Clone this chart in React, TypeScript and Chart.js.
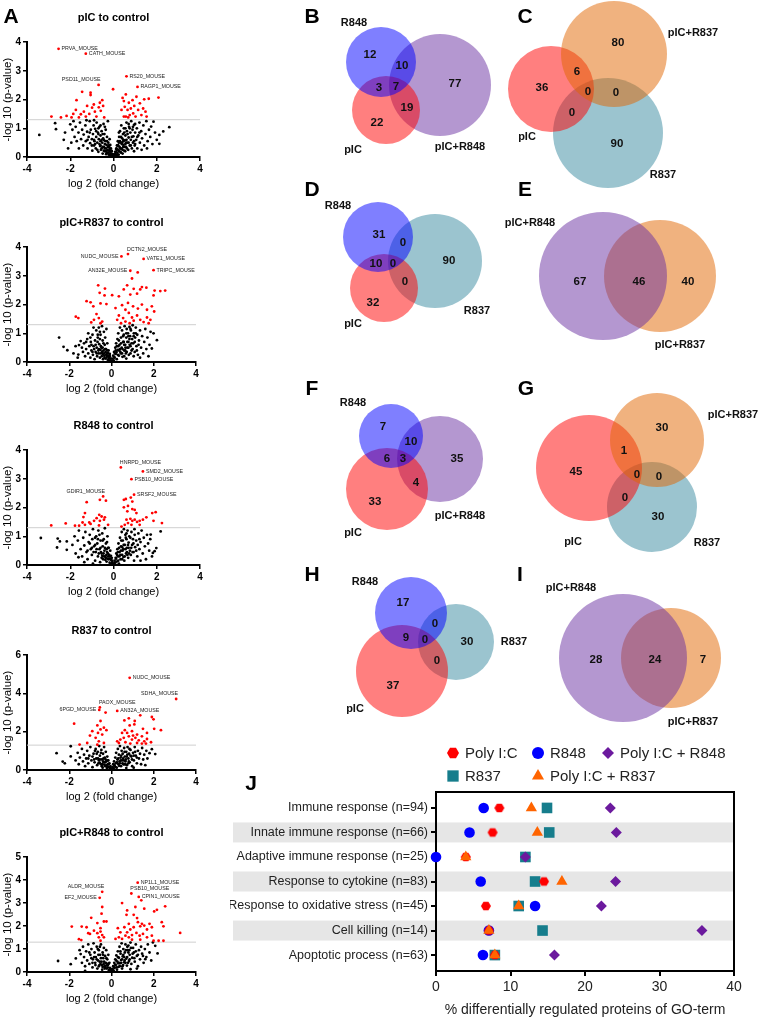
import React, { useEffect, useRef } from 'react';
import { Chart, registerables } from 'chart.js';
Chart.register(...registerables);

const FONT = '"Liberation Sans", Arial, Helvetica, sans-serif';
Chart.defaults.font.family = FONT;
Chart.defaults.color = '#000';

// ---------------- Panel A: volcano data (log2 FC, -log10 p) ----------------
const P_THRESHOLD = 1.3;
const X_TITLE = 'log 2 (fold change)';
const Y_TITLE = '-log 10 (p-value)';

const pIC_black: number[][] = [
  [-3.43,0.77],[-2.7,1.18],[-2.66,0.97],[-2.24,0.85],[-2.0,1.14],[-1.9,0.95],[-1.8,0.7],[-1.75,1.05],[-1.7,0.55],[-1.62,0.85],[-1.55,1.2],[-1.5,0.62],[-1.45,0.95],[-1.4,0.4],[-1.38,0.78],[-1.3,1.1],[-1.28,0.55],[-1.22,0.88],[-1.2,0.3],[-1.15,0.7],[-1.1,1.25],[-1.08,0.48],[-1.05,0.95],[-1.0,0.62],[-0.98,0.22],[-0.95,0.8],[-0.92,1.1],[-0.9,0.4],[-0.88,0.55],[-0.85,0.98],[-0.82,0.3],[-0.8,0.7],[-0.78,1.2],[-0.75,0.5],[-0.72,0.85],[-0.7,0.18],[-0.68,0.62],[-0.65,1.05],[-0.62,0.38],[-0.6,0.75],[-0.58,0.25],[-0.55,0.9],[-0.52,0.5],[-0.5,0.12],[-0.48,0.65],[-0.46,1.15],[-0.44,0.35],[-0.42,0.8],[-0.4,0.2],[-0.38,0.55],[-0.36,0.95],[-0.34,0.1],[-0.32,0.42],[-0.3,0.7],[-0.28,0.25],[-0.26,1.25],[-0.24,0.5],[-0.22,0.08],[-0.2,0.35],[-0.18,0.62],[-0.16,0.18],[-0.14,0.05],[-0.12,0.3],[-0.1,0.12],[-0.08,0.2],[-0.06,0.04],[-0.04,0.1],[-0.02,0.02],[-2.3,0.6],[-2.1,0.3],[-1.95,0.5],[-1.6,0.3],[-1.85,1.25],[-1.25,1.28],[-0.9,1.28],
  [-0.9,0.6],[-0.85,0.45],[-0.8,0.9],[-0.75,0.25],[-0.7,1.0],[-0.65,0.45],[-0.6,0.55],[-0.55,0.3],[-0.5,0.8],[-0.45,0.6],[-0.4,0.45],[-0.35,0.3],[-0.3,0.55],[-0.25,0.15],[-0.22,0.4],[-0.18,0.28],[-0.15,0.42],[-0.1,0.22],[-1.0,0.4],[-1.1,0.85],[-1.2,0.6],[-0.6,1.1],[-0.4,1.05],[-0.7,0.8],
  [-0.5,0.35],[-0.45,0.22],[-0.4,0.3],[-0.35,0.2],[-0.3,0.15],[-0.26,0.35],[-0.2,0.22],[-0.15,0.1],[-0.12,0.2],[-0.08,0.08],[-0.6,0.4],[-0.55,0.6],
  [0.02,0.03],[0.04,0.1],[0.06,0.05],[0.08,0.18],[0.1,0.1],[0.12,0.28],[0.14,0.06],[0.16,0.4],[0.18,0.15],[0.2,0.55],[0.22,0.25],[0.24,0.08],[0.26,0.7],[0.28,0.35],[0.3,0.9],[0.32,0.18],[0.34,0.5],[0.36,1.1],[0.38,0.28],[0.4,0.65],[0.42,0.12],[0.44,0.8],[0.46,0.42],[0.48,1.0],[0.5,0.22],[0.52,0.58],[0.55,0.75],[0.58,0.35],[0.6,1.2],[0.62,0.9],[0.65,0.5],[0.68,0.25],[0.7,0.68],[0.72,1.05],[0.75,0.4],[0.78,0.85],[0.8,0.6],[0.82,1.25],[0.85,0.3],[0.88,0.95],[0.9,0.5],[0.92,0.72],[0.95,1.12],[0.98,0.4],[1.0,0.85],[1.05,0.6],[1.08,1.0],[1.1,0.3],[1.15,0.75],[1.2,1.2],[1.22,0.5],[1.28,0.9],[1.32,0.65],[1.38,1.1],[1.42,0.4],[1.48,0.8],[1.52,1.25],[1.58,0.55],[1.64,0.95],[1.7,0.7],[1.74,1.06],[1.8,0.45],[1.85,1.23],[1.92,0.85],[2.0,0.6],[2.12,0.77],[2.12,0.46],[2.3,0.89],[2.58,1.04],[1.55,0.3],[1.3,0.25],[0.95,0.2],
  [0.15,0.25],[0.2,0.4],[0.25,0.5],[0.3,0.3],[0.35,0.7],[0.4,0.5],[0.45,0.6],[0.5,0.85],[0.55,0.45],[0.6,0.6],[0.65,0.8],[0.7,0.5],[0.75,1.0],[0.8,0.4],[0.85,0.7],[0.9,1.05],[0.95,0.55],[1.0,0.45],[1.1,0.7],[1.2,0.85],[0.55,1.0],[0.7,1.15],[0.45,0.35],[0.35,0.15],[1.0,1.15],[0.25,0.85],
  [0.1,0.18],[0.14,0.3],[0.18,0.08],[0.22,0.4],[0.26,0.2],[0.3,0.55],[0.34,0.3],[0.38,0.45],[0.42,0.25],[0.46,0.55],[0.5,0.35],[0.54,0.2],[0.58,0.5],[0.62,0.3]
];
const pIC_red: number[][] = [
  [-2.54,3.77],[-1.28,3.60],[-0.69,2.51],[0.60,2.81],[1.11,2.44],[-0.02,2.36],[-1.45,2.27],[-1.06,2.24],[-1.06,2.16],[-0.52,1.98],[-1.71,1.98],[-2.87,1.41],[-2.43,1.38],[-2.17,1.43],[-1.94,1.38],[-1.86,1.50],[-1.74,1.64],[-1.60,1.38],[-1.51,1.49],[-1.37,1.58],[-1.28,1.41],[-1.22,1.78],[-1.12,1.50],[-0.99,1.72],[-0.91,1.83],[-0.86,1.58],[-0.79,1.41],[-0.68,1.73],[-0.63,1.89],[-0.59,1.61],[-0.48,1.78],[-0.43,1.38],
  [0.37,1.64],[0.42,2.06],[0.48,1.95],[0.48,1.41],[0.52,1.75],[0.57,2.18],[0.65,1.64],[0.71,1.89],[0.75,1.46],[0.80,1.69],[0.88,1.98],[0.91,1.52],[0.96,1.78],[1.02,1.41],[1.06,2.10],[1.14,1.64],[1.22,1.87],[1.29,1.46],[1.37,1.69],[1.42,2.01],[1.48,1.58],[1.53,1.41],[1.63,2.03],[2.08,2.07],[0.57,1.41],[0.68,1.38]
];
const pIC_labels: any[] = [
  [-2.54,3.77,'PRVA_MOUSE','r'],[-1.28,3.60,'CATH_MOUSE','r'],[-0.69,2.51,'PSD11_MOUSE','la'],[0.60,2.81,'RS20_MOUSE','r'],[1.11,2.44,'RAGP1_MOUSE','r']
];

const pICR837_black: number[][] = [
  [-2.48,0.85],[-2.27,0.53],[-2.09,0.41],[-1.54,0.59],[-1.57,0.26],[-1.46,0.73],[2.15,0.76],[1.99,1.0],[1.91,0.47],
  [-1.4,0.5],[-1.35,0.35],[-1.3,0.65],[-1.25,0.2],[-1.2,0.45],[-1.15,0.8],[-1.1,0.3],[-1.05,0.55],[-1.0,0.15],[-0.98,0.7],[-0.95,0.4],[-0.9,0.95],[-0.88,0.25],[-0.85,0.55],[-0.8,0.1],[-0.78,0.75],[-0.75,0.35],[-0.72,1.1],[-0.7,0.5],[-0.68,0.2],[-0.65,0.85],[-0.62,0.4],[-0.6,1.2],[-0.58,0.62],[-0.55,0.15],[-0.52,0.95],[-0.5,0.3],[-0.48,0.5],[-0.45,1.25],[-0.42,0.75],[-0.4,0.1],[-0.38,0.4],[-0.36,1.05],[-0.34,0.22],[-0.32,0.6],[-0.3,0.85],[-0.28,0.12],[-0.26,0.45],[-0.24,1.15],[-0.22,0.3],[-0.2,0.65],[-0.18,0.08],[-0.16,0.2],[-0.14,0.4],[-0.12,0.05],[-0.1,0.15],[-0.08,0.28],[-0.05,0.06],[-0.03,0.12],[-1.6,0.15],[-1.8,0.3],[-1.7,0.55],[-1.1,1.0],[-0.85,1.2],
  [-0.95,0.6],[-0.9,0.35],[-0.82,0.45],[-0.75,0.6],[-0.7,0.3],[-0.66,0.7],[-0.6,0.45],[-0.55,0.8],[-0.5,0.55],[-0.45,0.35],[-0.42,0.5],[-0.38,0.65],[-0.35,0.3],[-0.3,0.45],[-0.25,0.25],[-0.2,0.4],[-0.15,0.3],[-0.55,1.05],[-0.65,0.95],[-1.2,0.7],[-1.0,0.85],
  [-0.46,0.2],[-0.4,0.28],[-0.33,0.15],[-0.28,0.35],[-0.22,0.18],[-0.18,0.3],[-0.12,0.12],[-0.08,0.2],[-0.6,0.3],[-0.52,0.42],
  [0.02,0.04],[0.05,0.12],[0.08,0.22],[0.1,0.06],[0.12,0.35],[0.15,0.15],[0.18,0.5],[0.2,0.28],[0.22,0.65],[0.25,0.1],[0.28,0.8],[0.3,0.42],[0.32,1.0],[0.35,0.22],[0.38,0.6],[0.4,1.2],[0.42,0.35],[0.45,0.85],[0.48,0.5],[0.5,1.1],[0.52,0.18],[0.55,0.7],[0.58,0.95],[0.6,0.4],[0.62,1.25],[0.65,0.6],[0.68,0.3],[0.7,0.85],[0.72,1.15],[0.75,0.5],[0.78,1.0],[0.8,0.7],[0.82,0.25],[0.85,1.22],[0.88,0.9],[0.9,0.55],[0.92,1.1],[0.95,0.4],[0.98,0.8],[1.0,1.28],[1.03,0.65],[1.06,1.0],[1.1,0.35],[1.12,0.85],[1.15,1.2],[1.18,0.55],[1.22,0.95],[1.25,0.25],[1.3,0.75],[1.35,1.1],[1.4,0.5],[1.45,0.9],[1.5,0.3],[1.55,0.7],[1.6,1.15],[1.65,0.45],[1.7,0.85],[1.75,0.2],[1.8,0.6],[1.85,1.05],[1.05,0.2],[0.7,0.12],[1.35,0.15],
  [0.2,0.4],[0.25,0.55],[0.3,0.25],[0.35,0.75],[0.4,0.45],[0.45,0.65],[0.5,0.3],[0.55,0.9],[0.6,0.6],[0.65,0.4],[0.7,1.0],[0.75,0.7],[0.8,0.5],[0.85,0.8],[0.9,1.15],[0.95,0.65],[1.0,0.45],[1.05,0.9],[1.1,0.7],[1.15,1.0],[1.2,0.4],[1.28,0.6],[0.6,0.2],[0.9,0.3],
  [0.12,0.18],[0.16,0.3],[0.24,0.35],[0.32,0.55],[0.36,0.4],[0.44,0.3],[0.52,0.45],[0.58,0.7],[0.66,0.5],[0.72,0.35],[0.8,0.9],[0.86,0.6]
];
const pICR837_red: number[][] = [
  [0.78,3.76],[0.47,3.68],[1.52,3.59],[0.89,3.18],[1.99,3.2],[1.24,3.12],[0.97,2.91],[-0.63,2.67],[0.74,2.67],[-0.31,2.56],[0.58,2.53],[1.05,2.55],[1.36,2.53],[1.65,2.59],[2.04,2.49],[2.31,2.47],[2.54,2.49],[1.44,2.61],[1.21,2.38],[0.89,2.35],[0.35,2.29],[0.03,2.33],[-0.33,2.32],[-0.56,2.41],[1.99,2.32],[-1.18,2.12],[-0.99,2.08],[-0.86,1.94],[-0.52,2.04],[-0.24,2.02],[0.19,1.88],[0.5,1.98],[0.66,1.82],[0.78,2.06],[1.02,1.94],[1.25,1.86],[1.44,2.0],[1.68,1.82],[1.91,1.94],[2.02,1.76],[-1.57,1.53],[-1.69,1.58],[-0.71,1.67],[-0.6,1.53],[-0.83,1.47],[-0.44,1.41],[-0.96,1.38],[-0.52,1.35],[0.35,1.62],[0.55,1.53],[0.66,1.41],[0.82,1.71],[0.97,1.55],[1.05,1.44],[1.21,1.62],[1.36,1.47],[1.52,1.39],[1.68,1.55],[1.84,1.47],[0.45,1.35],[0.86,1.35],[0.27,1.47],[1.76,1.35]
];
const pICR837_labels: any[] = [
  [0.78,3.76,'DCTN2_MOUSE','ra'],[0.47,3.68,'NUDC_MOUSE','l'],[1.52,3.59,'VATE1_MOUSE','r'],[0.89,3.18,'AN32E_MOUSE','l'],[1.99,3.2,'TRIPC_MOUSE','r']
];

const R848_black: number[][] = [
  [-3.36,0.94],[-2.58,0.92],[-2.48,0.82],[-2.61,0.61],[-2.16,0.82],[-2.16,0.53],[-1.62,0.27],[2.18,1.17],[1.98,0.59],[1.82,0.42],[1.72,1.06],[1.9,0.48],
  [-1.9,0.7],[-1.8,1.0],[-1.75,0.4],[-1.65,0.85],[-1.6,1.2],[-1.52,0.55],[-1.45,0.3],[-1.4,0.95],[-1.35,0.68],[-1.3,1.15],[-1.25,0.45],[-1.2,0.2],[-1.15,0.8],[-1.1,1.05],[-1.05,0.55],[-1.0,0.35],[-0.98,0.9],[-0.95,1.25],[-0.9,0.65],[-0.85,0.15],[-0.82,0.45],[-0.8,1.0],[-0.75,0.75],[-0.72,0.3],[-0.7,1.2],[-0.65,0.55],[-0.62,0.1],[-0.6,0.85],[-0.55,0.4],[-0.52,1.1],[-0.5,0.65],[-0.48,0.2],[-0.45,0.9],[-0.42,0.5],[-0.4,1.28],[-0.38,0.3],[-0.35,0.75],[-0.32,0.12],[-0.3,0.45],[-0.28,1.0],[-0.25,0.6],[-0.22,0.2],[-0.2,0.35],[-0.18,0.08],[-0.15,0.5],[-0.12,0.18],[-0.1,0.05],[-0.08,0.25],[-0.05,0.1],[-0.03,0.03],[-1.35,0.1],[-0.95,0.05],
  [-1.0,0.6],[-0.92,0.45],[-0.85,0.7],[-0.78,0.55],[-0.72,0.9],[-0.68,0.4],[-0.6,0.6],[-0.55,0.25],[-0.5,0.85],[-0.46,0.4],[-0.4,0.6],[-0.36,0.25],[-0.32,0.55],[-0.26,0.4],[-0.22,0.6],[-0.18,0.3],[-1.1,0.75],[-1.2,0.5],[-0.65,1.05],[-0.85,0.95],[-0.3,0.8],
  [-0.44,0.3],[-0.38,0.18],[-0.33,0.35],[-0.28,0.22],[-0.24,0.3],[-0.16,0.22],[-0.12,0.32],[-0.07,0.15],[-0.58,0.45],[-0.52,0.32],
  [0.03,0.05],[0.05,0.15],[0.08,0.08],[0.1,0.25],[0.13,0.4],[0.15,0.12],[0.18,0.55],[0.2,0.3],[0.23,0.75],[0.25,0.05],[0.28,0.45],[0.3,0.95],[0.33,0.2],[0.35,0.65],[0.38,1.15],[0.4,0.35],[0.43,0.85],[0.45,0.55],[0.48,1.25],[0.5,0.15],[0.52,0.7],[0.55,1.05],[0.58,0.4],[0.6,0.9],[0.62,0.6],[0.65,1.2],[0.68,0.25],[0.7,0.78],[0.73,1.0],[0.76,0.5],[0.8,0.35],[0.83,1.15],[0.86,0.7],[0.9,0.9],[0.93,0.45],[0.97,1.25],[1.0,0.62],[1.05,0.85],[1.1,0.3],[1.15,1.1],[1.2,0.55],[1.25,0.8],[1.3,1.2],[1.35,0.4],[1.4,0.95],[1.45,0.65],[1.5,0.2],[1.55,1.05],[1.6,0.75],[1.65,0.5],[1.7,0.9],[1.78,0.3],[0.95,0.15],[1.25,0.15],
  [0.2,0.45],[0.26,0.6],[0.32,0.35],[0.36,0.85],[0.42,0.5],[0.47,0.7],[0.52,0.3],[0.57,0.95],[0.62,0.45],[0.67,0.7],[0.72,0.4],[0.78,0.95],[0.82,0.6],[0.88,0.45],[0.92,0.75],[0.98,1.05],[1.05,0.5],[1.12,0.7],[1.2,0.9],[0.6,1.1],[0.4,0.2],
  [0.12,0.22],[0.17,0.35],[0.22,0.15],[0.27,0.3],[0.34,0.5],[0.4,0.62],[0.46,0.28],[0.55,0.55],[0.64,0.35],[0.7,0.6]
];
const R848_red: number[][] = [
  [0.34,3.40],[1.36,3.26],[0.83,2.99],[-0.48,2.39],[-0.35,2.24],[0.95,2.45],[-1.24,2.19],[-0.63,2.27],[0.48,2.27],[0.57,2.30],[0.80,2.35],[0.87,2.21],[0.67,2.06],[0.48,2.01],[0.64,1.87],[0.87,1.95],[0.98,1.92],[1.06,1.81],[1.79,1.81],[1.95,1.84],[-1.32,1.81],[-1.39,1.67],[-0.66,1.75],[-0.55,1.69],[-0.40,1.66],[-0.78,1.63],[-0.44,1.58],[-0.63,1.54],[-0.25,1.40],[-2.88,1.38],[-2.21,1.45],[-1.78,1.37],[-1.59,1.37],[-1.43,1.48],[-1.32,1.40],[-1.12,1.48],[-1.06,1.43],[-0.90,1.54],[-0.67,1.38],[0.60,1.58],[0.78,1.61],[0.87,1.54],[0.98,1.58],[1.09,1.50],[1.21,1.54],[1.36,1.58],[0.67,1.46],[0.83,1.40],[1.52,1.66],[1.85,1.54],[2.24,1.46],[0.52,1.40],[0.37,1.34],[1.21,1.40]
];
const R848_labels: any[] = [
  [0.34,3.40,'HNRPD_MOUSE','ra'],[1.36,3.26,'SMD2_MOUSE','r'],[0.83,2.99,'PSB10_MOUSE','r'],[-0.48,2.39,'GDIR1_MOUSE','la'],[0.95,2.45,'SRSF2_MOUSE','r']
];

const R837_black: number[][] = [
  [-2.6,0.88],[-2.31,0.44],[-2.21,0.35],[-1.93,1.24],[-1.93,0.71],[2.07,0.83],[1.91,1.09],[1.8,0.88],
  [-1.7,0.5],[-1.6,0.9],[-1.55,0.3],[-1.5,0.65],[-1.4,1.1],[-1.35,0.45],[-1.3,0.8],[-1.25,0.2],[-1.2,0.6],[-1.15,1.0],[-1.1,0.35],[-1.05,0.75],[-1.0,1.2],[-0.95,0.5],[-0.9,0.15],[-0.85,0.85],[-0.8,0.4],[-0.75,1.1],[-0.72,0.6],[-0.68,0.25],[-0.65,0.95],[-0.6,0.5],[-0.58,1.25],[-0.55,0.75],[-0.5,0.3],[-0.48,1.05],[-0.45,0.55],[-0.42,0.12],[-0.4,0.85],[-0.37,0.4],[-0.35,1.2],[-0.32,0.65],[-0.3,0.2],[-0.27,0.95],[-0.25,0.45],[-0.22,0.1],[-0.2,0.7],[-0.17,0.3],[-0.15,0.5],[-0.12,0.15],[-0.1,0.35],[-0.07,0.06],[-0.05,0.2],[-0.02,0.04],
  [-0.9,0.7],[-0.82,0.55],[-0.7,0.85],[-0.62,0.35],[-0.55,0.55],[-0.5,0.9],[-0.44,0.3],[-0.38,0.6],[-0.3,0.4],[-0.24,0.25],[-0.18,0.5],[-1.1,0.6],[-0.78,1.0],
  [-0.46,0.2],[-0.4,0.45],[-0.34,0.28],[-0.28,0.55],[-0.2,0.18],[-0.14,0.3],[-0.08,0.12],[-0.56,0.38],[-0.64,0.6],
  [0.02,0.05],[0.05,0.15],[0.08,0.3],[0.1,0.08],[0.12,0.45],[0.15,0.2],[0.18,0.65],[0.2,0.35],[0.22,0.9],[0.25,0.12],[0.28,0.55],[0.3,1.1],[0.33,0.3],[0.35,0.8],[0.38,0.45],[0.4,1.25],[0.43,0.65],[0.45,0.2],[0.48,1.0],[0.5,0.5],[0.53,0.85],[0.56,0.3],[0.6,1.15],[0.63,0.7],[0.66,0.45],[0.7,0.95],[0.73,0.25],[0.76,1.2],[0.8,0.6],[0.83,0.85],[0.86,0.4],[0.9,1.05],[0.94,0.7],[0.98,0.2],[1.02,0.9],[1.06,0.5],[1.1,1.2],[1.15,0.75],[1.2,0.35],[1.25,1.0],[1.3,0.6],[1.35,0.85],[1.4,0.3],[1.45,1.15],[1.5,0.55],[1.55,0.8],[1.6,0.25],[1.65,1.0],[1.7,0.6],[1.05,0.12],[0.7,0.1],
  [0.25,0.4],[0.32,0.6],[0.4,0.35],[0.46,0.75],[0.55,0.6],[0.62,0.95],[0.68,0.55],[0.75,0.8],[0.82,0.45],[0.9,0.75],[0.97,0.55],[1.05,0.75],[1.12,0.95],[1.2,0.65],[0.6,0.3],[0.85,1.1],
  [0.14,0.25],[0.2,0.15],[0.26,0.38],[0.36,0.22],[0.44,0.5],[0.52,0.35],[0.58,0.5],[0.66,0.3],[0.72,0.7],[0.8,0.35]
];
const R837_red: number[][] = [
  [0.86,4.82],[3.06,3.71],[-0.55,3.27],[-0.58,3.14],[0.27,3.09],[-0.28,3.0],[-1.77,2.42],[-0.52,2.56],[-0.67,2.33],[-0.36,2.21],[-0.52,2.12],[-0.24,2.08],[-0.64,1.94],[-0.44,1.85],[-1.02,1.80],[-0.91,2.03],[-0.75,1.68],[-0.60,1.50],[-0.67,1.32],[-1.15,1.41],[-1.51,1.33],[-0.36,1.41],[0.82,2.70],[1.10,2.56],[1.36,2.86],[1.91,2.77],[1.99,2.65],[0.61,2.59],[0.86,2.33],[1.08,2.38],[0.63,2.08],[0.50,1.94],[0.74,1.94],[0.97,2.03],[1.21,1.85],[1.49,2.15],[1.68,1.94],[2.02,2.15],[2.34,2.08],[0.42,1.59],[0.58,1.68],[0.82,1.76],[0.97,1.59],[1.13,1.68],[1.29,1.55],[1.44,1.76],[1.55,1.50],[1.68,1.62],[1.87,1.45],[0.35,1.41],[0.66,1.45],[0.89,1.38],[1.21,1.41],[1.44,1.38],[0.27,1.50],[1.02,1.80],[1.63,1.38]
];
const R837_labels: any[] = [
  [0.86,4.82,'NUDC_MOUSE','r'],[3.06,3.71,'SDHA_MOUSE','la'],[-0.55,3.27,'PAOX_MOUSE','ra'],[-0.58,3.14,'6PGD_MOUSE','l'],[0.27,3.09,'AN32A_MOUSE','r']
];

const pICR848_black: number[][] = [
  [-2.53,0.48],[-1.93,0.34],[-1.69,0.59],[-1.51,0.95],[-1.46,0.78],[2.18,0.81],[2.07,1.14],[1.96,1.29],[1.6,0.56],[1.49,0.7],
  [-1.4,0.4],[-1.35,1.1],[-1.3,0.65],[-1.25,0.25],[-1.2,0.9],[-1.15,0.5],[-1.1,1.2],[-1.05,0.35],[-1.0,0.75],[-0.95,1.0],[-0.9,0.2],[-0.88,0.55],[-0.85,1.25],[-0.8,0.85],[-0.77,0.4],[-0.74,0.65],[-0.7,1.1],[-0.67,0.15],[-0.64,0.5],[-0.6,0.95],[-0.57,0.3],[-0.54,0.75],[-0.5,1.2],[-0.47,0.45],[-0.44,0.1],[-0.42,0.85],[-0.39,0.6],[-0.36,1.05],[-0.33,0.25],[-0.3,0.7],[-0.27,0.4],[-0.25,0.95],[-0.22,0.15],[-0.2,0.55],[-0.17,0.3],[-0.15,0.75],[-0.12,0.08],[-0.1,0.4],[-0.08,0.18],[-0.05,0.05],[-0.03,0.12],[-1.25,0.05],[-0.95,0.6],
  [-0.9,0.4],[-0.82,0.65],[-0.76,0.3],[-0.7,0.55],[-0.62,0.75],[-0.56,0.45],[-0.5,0.6],[-0.45,0.3],[-0.4,0.75],[-0.35,0.45],[-0.3,0.2],[-0.24,0.6],[-0.2,0.35],[-1.05,0.85],[-0.65,1.0],[-0.55,1.1],
  [-0.42,0.22],[-0.37,0.35],[-0.32,0.15],[-0.26,0.28],[-0.18,0.2],[-0.14,0.35],[-0.06,0.15],[-0.6,0.25],[-0.52,0.35],
  [0.02,0.04],[0.05,0.12],[0.08,0.25],[0.1,0.06],[0.13,0.4],[0.15,0.18],[0.18,0.55],[0.2,0.3],[0.23,0.72],[0.26,0.1],[0.28,0.45],[0.3,0.9],[0.33,0.22],[0.35,0.62],[0.38,1.1],[0.4,0.38],[0.43,0.8],[0.45,0.52],[0.48,1.25],[0.5,0.15],[0.53,0.68],[0.56,1.0],[0.6,0.42],[0.63,0.85],[0.66,1.2],[0.7,0.58],[0.73,0.28],[0.76,0.95],[0.8,1.15],[0.83,0.48],[0.86,0.75],[0.9,1.28],[0.94,0.35],[0.98,0.62],[1.02,1.05],[1.06,0.85],[1.1,0.45],[1.15,1.2],[1.2,0.7],[1.25,0.25],[1.3,0.95],[1.35,0.55],[1.4,1.1],[1.45,0.8],[1.52,0.4],[1.58,1.0],[1.65,0.65],[1.72,1.2],[1.8,0.85],[1.88,0.5],[0.9,0.12],[1.2,0.15],
  [0.22,0.5],[0.3,0.65],[0.36,0.4],[0.42,0.9],[0.5,0.55],[0.56,0.75],[0.62,0.5],[0.68,0.95],[0.74,0.65],[0.8,0.85],[0.86,0.55],[0.92,1.05],[1.0,0.8],[1.08,0.6],[1.15,0.9],[1.25,0.75],[0.55,0.3],[0.75,1.1],
  [0.12,0.2],[0.17,0.32],[0.24,0.2],[0.31,0.38],[0.39,0.25],[0.46,0.4],[0.52,0.25],[0.6,0.65],[0.66,0.4],[0.78,0.4],[0.84,0.95]
];
const pICR848_red: number[][] = [
  [1.24,3.89],[0.94,3.42],[1.29,3.27],[-0.44,3.49],[-0.56,3.23],[1.41,3.12],[0.50,3.0],[-0.44,2.83],[-0.47,2.54],[2.15,2.71],[2.02,2.64],[2.54,2.86],[1.55,2.76],[0.74,2.68],[0.71,2.49],[1.05,2.49],[1.13,2.83],[1.21,2.35],[-0.96,2.36],[-0.36,2.20],[-0.24,2.20],[-1.41,1.98],[-1.88,1.98],[-1.18,1.95],[-0.67,2.13],[-0.52,1.91],[-1.10,1.69],[-1.02,1.66],[-0.83,1.80],[-0.67,1.69],[-0.52,1.76],[-0.44,1.61],[-0.60,1.51],[-0.36,1.51],[-1.54,1.43],[-1.43,1.39],[-0.52,1.36],[0.30,1.91],[0.42,1.73],[0.61,1.95],[0.82,2.10],[0.74,1.73],[0.89,1.85],[1.05,1.95],[1.25,2.17],[1.36,1.99],[1.44,2.10],[1.55,2.02],[1.68,1.85],[1.80,2.10],[1.91,1.95],[2.38,2.17],[2.46,1.99],[0.66,1.58],[0.82,1.51],[0.97,1.61],[1.18,1.70],[1.33,1.58],[1.49,1.66],[1.68,1.51],[1.91,1.58],[0.50,1.44],[0.97,1.41],[1.36,1.41],[1.99,1.36],[2.23,1.36],[2.46,1.36],[3.25,1.70],[0.35,1.51],[0.19,1.44]
];
const pICR848_labels: any[] = [
  [1.24,3.89,'NP1L1_MOUSE','r'],[0.94,3.42,'PSB10_MOUSE','ra'],[1.29,3.27,'CPIN1_MOUSE','r'],[-0.44,3.49,'ALDR_MOUSE','la'],[-0.56,3.23,'EF2_MOUSE','l']
];

const VOLCANOES = [
  { title: 'pIC to control', black: pIC_black, red: pIC_red, labels: pIC_labels, yMax: 4, yStep: 1, top: 0, width: 215 },
  { title: 'pIC+R837 to control', black: pICR837_black, red: pICR837_red, labels: pICR837_labels, yMax: 4, yStep: 1, top: 205, width: 211 },
  { title: 'R848 to control', black: R848_black, red: R848_red, labels: R848_labels, yMax: 4, yStep: 1, top: 408, width: 215 },
  { title: 'R837 to control', black: R837_black, red: R837_red, labels: R837_labels, yMax: 6, yStep: 2, top: 613, width: 211 },
  { title: 'pIC+R848 to control', black: pICR848_black, red: pICR848_red, labels: pICR848_labels, yMax: 5, yStep: 1, top: 815, width: 211 },
];

// ---------------- Panels B–I: Venn data ----------------
const vennB_sets = ['R848', 'pIC', 'pIC+R848'];
const vennB_counts = [12, 10, 3, 7, 77, 19, 22];
const vennC_sets = ['pIC+R837', 'pIC', 'R837'];
const vennC_counts = [80, 6, 36, 0, 0, 0, 90];
const vennD_sets = ['R848', 'pIC', 'R837'];
const vennD_counts = [31, 0, 10, 0, 90, 0, 32];
const vennE_sets = ['pIC+R848', 'pIC+R837'];
const vennE_counts = [67, 46, 40];
const vennF_sets = ['R848', 'pIC', 'pIC+R848'];
const vennF_counts = [7, 10, 6, 3, 35, 4, 33];
const vennG_sets = ['pIC+R837', 'pIC', 'R837'];
const vennG_counts = [30, 1, 45, 0, 0, 0, 30];
const vennH_sets = ['R848', 'pIC', 'R837'];
const vennH_counts = [17, 0, 9, 0, 30, 0, 37];
const vennI_sets = ['pIC+R848', 'pIC+R837'];
const vennI_counts = [28, 24, 7];

const SET_COLORS: Record<string, string> = {
  'R848': 'rgba(0,0,255,0.5)',
  'pIC': 'rgba(255,0,0,0.5)',
  'pIC+R848': 'rgba(105,47,161,0.5)',
  'R837': 'rgba(55,137,159,0.5)',
  'pIC+R837': 'rgba(225,101,0,0.5)',
};

// layout of the Venn drawings (page coordinates)
const VENN_LAYOUT: Record<string, any> = {
  B: { circles: [[381,62,35],[386,110,34],[440,85,51]], setPos: [[354,23],[353,150],[460,147]],
       countPos: [[370,55],[402,66],[379,88],[396,87],[455,84],[407,108],[377,123]] },
  C: { circles: [[614,54,53],[551,89,43],[608,133,55]], setPos: [[693,33],[527,137],[663,175]],
       countPos: [[618,43],[577,72],[542,88],[588,92],[616,93],[572,113],[617,144]] },
  D: { circles: [[378,237,35],[384,288,34],[435,261,47]], setPos: [[338,206],[353,324],[477,311]],
       countPos: [[379,235],[403,243],[376,264],[393,264],[449,261],[405,282],[373,303]] },
  E: { circles: [[603,276,64],[660,276,56]], setPos: [[530,223],[680,345]],
       countPos: [[580,282],[639,282],[688,282]] },
  F: { circles: [[391,436,32],[387,489,41],[440,459,43]], setPos: [[353,403],[353,533],[460,516]],
       countPos: [[383,427],[411,442],[387,459],[403,459],[457,459],[416,483],[375,502]] },
  G: { circles: [[657,440,47],[589,468,53],[652,507,45]], setPos: [[733,415],[573,542],[707,543]],
       countPos: [[662,428],[624,451],[576,472],[637,475],[659,477],[625,498],[658,517]] },
  H: { circles: [[411,613,36],[402,671,46],[456,642,38]], setPos: [[365,582],[355,709],[514,642]],
       countPos: [[403,603],[435,624],[406,638],[425,640],[467,642],[437,661],[393,686]] },
  I: { circles: [[623,658,64],[671,658,50]], setPos: [[571,588],[693,722]],
       countPos: [[596,660],[655,660],[703,660]] },
};

const VENN_PANELS = [
  { id: 'B', sets: vennB_sets, counts: vennB_counts },
  { id: 'C', sets: vennC_sets, counts: vennC_counts },
  { id: 'D', sets: vennD_sets, counts: vennD_counts },
  { id: 'E', sets: vennE_sets, counts: vennE_counts },
  { id: 'F', sets: vennF_sets, counts: vennF_counts },
  { id: 'G', sets: vennG_sets, counts: vennG_counts },
  { id: 'H', sets: vennH_sets, counts: vennH_counts },
  { id: 'I', sets: vennI_sets, counts: vennI_counts },
];

// the bubble controller reserves its largest radius as padding on every side
const VENN_PAD = Math.max(...Object.values(VENN_LAYOUT).flatMap((l: any) => l.circles.map((c: number[]) => c[2])));
const VENN_X = [230, 762];
const VENN_Y = [0, 730];

// ---------------- Panel J: GO-term data ----------------
const goTerms = [
  'Immune response (n=94)',
  'Innate immune response (n=66)',
  'Adaptive immune response (n=25)',
  'Response to cytokine (n=83)',
  'Response to oxidative stress (n=45)',
  'Cell killing (n=14)',
  'Apoptotic process (n=63)',
];
const polyIC = [8.5, 7.6, 4.0, 14.5, 6.7, 7.1, 7.9];
const r848 = [6.4, 4.5, 0, 6.0, 13.3, 7.1, 6.3];
const polyIC_R848 = [23.4, 24.2, 12.0, 24.1, 22.2, 35.7, 15.9];
const r837 = [14.9, 15.2, 12.0, 13.3, 11.1, 14.3, 7.9];
const polyIC_R837 = [12.8, 13.6, 4.0, 16.9, 11.1, 7.1, 7.9];
const J_X_TITLE = '% differentially regulated proteins of GO-term';

const J_SERIES = [
  { name: 'Poly I:C', values: polyIC, color: '#ff0000', style: 'hexagon', radius: 5, order: 2 },
  { name: 'R848', values: r848, color: '#0000ff', style: 'circle', radius: 5.3, order: 4 },
  { name: 'Poly I:C + R848', values: polyIC_R848, color: '#6c1a9e', style: 'rectRot', radius: 5.5, order: 0 },
  { name: 'R837', values: r837, color: '#167d8c', style: 'rect', radius: 7.5, order: 3 },
  { name: 'Poly I:C + R837', values: polyIC_R837, color: '#ff6400', style: 'triangle', radius: 6.5, order: 1 },
];

const PANEL_LETTERS: [string, number, number][] = [
  ['A', 11, 15], ['B', 312, 15], ['C', 525, 15], ['D', 312, 188], ['E', 525, 188],
  ['F', 312, 387], ['G', 526, 387], ['H', 312, 573], ['I', 520, 573], ['J', 251, 782],
];

// ---------------- helpers ----------------
function makeHexagon(color: string, r: number) {
  const c = document.createElement('canvas');
  const s = Math.ceil(r * 2 + 2);
  c.width = s; c.height = s;
  const g = c.getContext('2d')!;
  g.fillStyle = color;
  g.beginPath();
  for (let i = 0; i < 6; i++) {
    const a = (Math.PI / 3) * i;
    const px = s / 2 + r * Math.cos(a), py = s / 2 + r * Math.sin(a);
    if (i === 0) g.moveTo(px, py); else g.lineTo(px, py);
  }
  g.closePath();
  g.fill();
  return c;
}

function drawMarker(ctx: CanvasRenderingContext2D, style: any, color: string, x: number, y: number, r: number) {
  ctx.save();
  ctx.fillStyle = color;
  ctx.beginPath();
  if (style === 'circle') {
    ctx.arc(x, y, r, 0, Math.PI * 2);
  } else if (style === 'rect') {
    const s = r * Math.SQRT1_2;
    ctx.rect(x - s, y - s, 2 * s, 2 * s);
  } else if (style === 'rectRot') {
    ctx.moveTo(x, y - r); ctx.lineTo(x + r, y); ctx.lineTo(x, y + r); ctx.lineTo(x - r, y);
  } else if (style === 'triangle') {
    for (let i = 0; i < 3; i++) {
      const a = -Math.PI / 2 + i * (2 * Math.PI / 3);
      const px = x + r * Math.cos(a), py = y + r * Math.sin(a);
      if (i === 0) ctx.moveTo(px, py); else ctx.lineTo(px, py);
    }
  } else if (style instanceof HTMLCanvasElement) {
    ctx.drawImage(style, x - style.width / 2, y - style.height / 2, style.width, style.height);
    ctx.restore();
    return;
  }
  ctx.closePath();
  ctx.fill();
  ctx.restore();
}

function makeVolcano(canvas: HTMLCanvasElement, v: any) {
  const labelPlugin = {
    id: 'volcanoLabels',
    afterDatasetsDraw(chart: any) {
      const { ctx, scales } = chart;
      ctx.save();
      ctx.font = `5.3px ${FONT}`;
      ctx.fillStyle = '#222';
      ctx.textBaseline = 'middle';
      for (const [lx, ly, text, pos] of v.labels) {
        const px = scales.x.getPixelForValue(lx), py = scales.y.getPixelForValue(ly);
        let tx = px, ty = py;
        if (pos === 'r') { ctx.textAlign = 'left'; tx = px + 3; }
        else if (pos === 'l') { ctx.textAlign = 'right'; tx = px - 3; }
        else if (pos === 'ra') { ctx.textAlign = 'left'; tx = px - 1; ty = py - 5; }
        else { ctx.textAlign = 'right'; tx = px + 2; ty = py - 5; }
        ctx.fillText(text, tx, ty);
      }
      ctx.restore();
    },
  };
  const axisCommon = {
    grid: { display: true, drawOnChartArea: false, drawTicks: true, tickLength: 4, color: '#000', lineWidth: 1.5 },
    border: { display: true, color: '#000', width: 2 },
  };
  return new Chart(canvas, {
    type: 'scatter',
    data: {
      datasets: [
        { data: v.black.map((p: number[]) => ({ x: p[0], y: p[1] })), backgroundColor: '#000', pointRadius: 1.4, borderWidth: 0, order: 2 } as any,
        { data: v.red.map((p: number[]) => ({ x: p[0], y: p[1] })), backgroundColor: '#ff0000', pointRadius: 1.4, borderWidth: 0, order: 1 },
        { type: 'line', data: [{ x: -4, y: P_THRESHOLD }, { x: 4, y: P_THRESHOLD }], borderColor: '#cfcfcf', borderWidth: 1, pointRadius: 0, order: 3 },
      ],
    },
    options: {
      animation: false,
      responsive: false,
      events: [],
      layout: { padding: { right: v.width - (v.width === 215 ? 200 : 196), left: 0, top: 0, bottom: 0 } },
      plugins: {
        legend: { display: false },
        tooltip: { enabled: false },
        title: {
          display: true, text: v.title, fullSize: false, color: '#000',
          font: { size: 11, weight: 'bold', family: FONT },
          padding: { top: 11, bottom: 18 },
        },
      },
      scales: {
        x: {
          type: 'linear', min: -4, max: 4,
          ticks: { stepSize: 2, font: { size: 10, weight: 'bold' }, color: '#000', padding: 2, maxRotation: 0, minRotation: 0 },
          title: { display: true, text: X_TITLE, color: '#000', font: { size: 11 }, padding: { top: 0, bottom: 9 } },
          afterFit: (s: any) => { s.height = 43; },
          ...axisCommon,
        },
        y: {
          type: 'linear', min: 0, max: v.yMax,
          ticks: { stepSize: v.yStep, font: { size: 10, weight: 'bold' }, color: '#000', padding: 2 },
          title: { display: true, text: Y_TITLE, color: '#000', font: { size: 11.5 }, padding: { top: 1, bottom: 0 } },
          afterFit: (s: any) => { s.width = 27; },
          ...axisCommon,
        },
      },
    } as any,
    plugins: [labelPlugin],
  });
}

function makeVenn(canvas: HTMLCanvasElement) {
  const datasets: any[] = [];
  VENN_PANELS.forEach((p) => {
    const lay = VENN_LAYOUT[p.id];
    p.sets.forEach((name, i) => {
      const [cx, cy, r] = lay.circles[i];
      datasets.push({ label: `${p.id} ${name}`, data: [{ x: cx, y: cy, r }], backgroundColor: SET_COLORS[name], borderWidth: 0, clip: false });
    });
  });
  const textPlugin = {
    id: 'vennText',
    afterDatasetsDraw(chart: any) {
      const { ctx, scales } = chart;
      ctx.save();
      ctx.textAlign = 'center';
      ctx.textBaseline = 'middle';
      ctx.fillStyle = '#111';
      VENN_PANELS.forEach((p) => {
        const lay = VENN_LAYOUT[p.id];
        ctx.font = `bold 11.5px ${FONT}`;
        p.counts.forEach((c, i) => {
          const [x, y] = lay.countPos[i];
          ctx.fillText(String(c), scales.x.getPixelForValue(x), scales.y.getPixelForValue(y));
        });
        ctx.font = `bold 11px ${FONT}`;
        p.sets.forEach((s, i) => {
          const [x, y] = lay.setPos[i];
          ctx.fillText(s, scales.x.getPixelForValue(x), scales.y.getPixelForValue(y));
        });
      });
      ctx.restore();
    },
  };
  return new Chart(canvas, {
    type: 'bubble',
    data: { datasets },
    options: {
      animation: false,
      responsive: false,
      events: [],
      layout: { padding: 0 },
      plugins: { legend: { display: false }, tooltip: { enabled: false } },
      scales: {
        x: { type: 'linear', min: VENN_X[0], max: VENN_X[1], display: false },
        y: { type: 'linear', min: VENN_Y[0], max: VENN_Y[1], reverse: true, display: false },
      },
    } as any,
    plugins: [textPlugin],
  });
}

function makeGo(canvas: HTMLCanvasElement) {
  const hex = makeHexagon('#ff0000', 5);
  const styleOf = (s: any) => (s.style === 'hexagon' ? hex : s.style);
  const bandPlugin = {
    id: 'goBands',
    beforeDraw(chart: any) {
      const { ctx, chartArea, scales } = chart;
      ctx.save();
      ctx.fillStyle = '#e6e6e6';
      goTerms.forEach((_, i) => {
        if (i % 2 === 1) {
          const yc = scales.y.getPixelForValue(i);
          ctx.fillRect(3, yc - 10, chartArea.right - 3, 20);
        }
      });
      ctx.restore();
    },
    beforeDatasetsDraw(chart: any) {
      const { ctx, chartArea } = chart;
      ctx.save();
      ctx.strokeStyle = '#000';
      ctx.lineWidth = 2;
      ctx.strokeRect(chartArea.left, chartArea.top, chartArea.right - chartArea.left, chartArea.bottom - chartArea.top);
      ctx.restore();
    },
    afterDraw(chart: any) {
      const { ctx, chartArea } = chart;
      const colX = [17, 102, 172];
      const rowY = [39, 16];
      const slots = [[0, 0], [1, 0], [2, 0], [0, 1], [1, 1]];
      const hexBig = makeHexagon('#ff0000', 6);
      ctx.save();
      ctx.font = `15px ${FONT}`;
      ctx.textAlign = 'left';
      ctx.textBaseline = 'middle';
      J_SERIES.forEach((s, i) => {
        const [c, r] = slots[i];
        const mx = chartArea.left + colX[c];
        const my = chartArea.top - rowY[r];
        const st = s.style === 'hexagon' ? hexBig : s.style;
        const rad = s.style === 'rect' ? 8 : s.style === 'circle' ? 6 : s.style === 'triangle' ? 7 : 6;
        drawMarker(ctx, st, s.color, mx, my, rad);
        ctx.fillStyle = '#222';
        ctx.fillText(s.name, mx + 12, my + 1);
      });
      ctx.restore();
    },
  };
  const axisCommon = {
    grid: { display: true, drawOnChartArea: false, drawTicks: true, tickLength: 5, color: '#000', lineWidth: 2 },
    border: { display: true, color: '#000', width: 2 },
  };
  return new Chart(canvas, {
    type: 'scatter',
    data: {
      datasets: J_SERIES.map((s) => ({
        label: s.name,
        data: s.values.map((v, k) => ({ x: v, y: k })),
        pointStyle: styleOf(s),
        pointRadius: s.radius,
        backgroundColor: s.color,
        borderColor: s.color,
        borderWidth: 0,
        order: s.order,
        clip: false,
      })) as any,
    },
    options: {
      animation: false,
      responsive: false,
      events: [],
      layout: { padding: { top: 57, right: 28, left: 0, bottom: 0 } },
      plugins: { legend: { display: false }, tooltip: { enabled: false } },
      scales: {
        x: {
          type: 'linear', min: 0, max: 40,
          ticks: { stepSize: 10, font: { size: 14 }, color: '#222', padding: 3, maxRotation: 0 },
          title: { display: true, text: J_X_TITLE, color: '#222', font: { size: 14 }, padding: { top: 0, bottom: 1 } },
          afterFit: (s: any) => { s.height = 49; },
          ...axisCommon,
        },
        y: {
          type: 'linear', min: -0.65, max: goTerms.length - 0.35, reverse: true,
          afterBuildTicks: (s: any) => { s.ticks = goTerms.map((_, i) => ({ value: i })); },
          ticks: { autoSkip: false, font: { size: 12.5 }, color: '#222', padding: 3, callback: (v: any) => goTerms[v] },
          afterFit: (s: any) => { s.width = 206; },
          ...axisCommon,
        },
      },
    } as any,
    plugins: [bandPlugin],
  });
}

function ChartCanvas({ left, top, width, height, make }: { left: number; top: number; width: number; height: number; make: (c: HTMLCanvasElement) => Chart }) {
  const ref = useRef<HTMLCanvasElement>(null);
  useEffect(() => {
    const ch = make(ref.current!);
    return () => ch.destroy();
  }, []);
  return <canvas ref={ref} width={width} height={height} style={{ position: 'absolute', left, top, width, height }} />;
}

export default function App() {
  const vw = VENN_X[1] - VENN_X[0] + 2 * VENN_PAD;
  const vh = VENN_Y[1] - VENN_Y[0] + 2 * VENN_PAD;
  return (
    <div style={{ position: 'absolute', left: 0, top: 0, width: 762, height: 1020, background: '#fff', overflow: 'hidden' }}>
      {VOLCANOES.map((v, i) => (
        <ChartCanvas key={i} left={0} top={v.top} width={v.width} height={200} make={(c) => makeVolcano(c, v)} />
      ))}
      <ChartCanvas left={VENN_X[0] - VENN_PAD} top={VENN_Y[0] - VENN_PAD} width={vw} height={vh} make={makeVenn} />
      <ChartCanvas left={230} top={735} width={532} height={285} make={makeGo} />
      {PANEL_LETTERS.map(([t, x, y]) => (
        <div key={t} style={{ position: 'absolute', left: x, top: y, transform: 'translate(-50%, -50%)', font: `bold 21px ${FONT}`, lineHeight: 1, color: '#000' }}>{t}</div>
      ))}
    </div>
  );
}
